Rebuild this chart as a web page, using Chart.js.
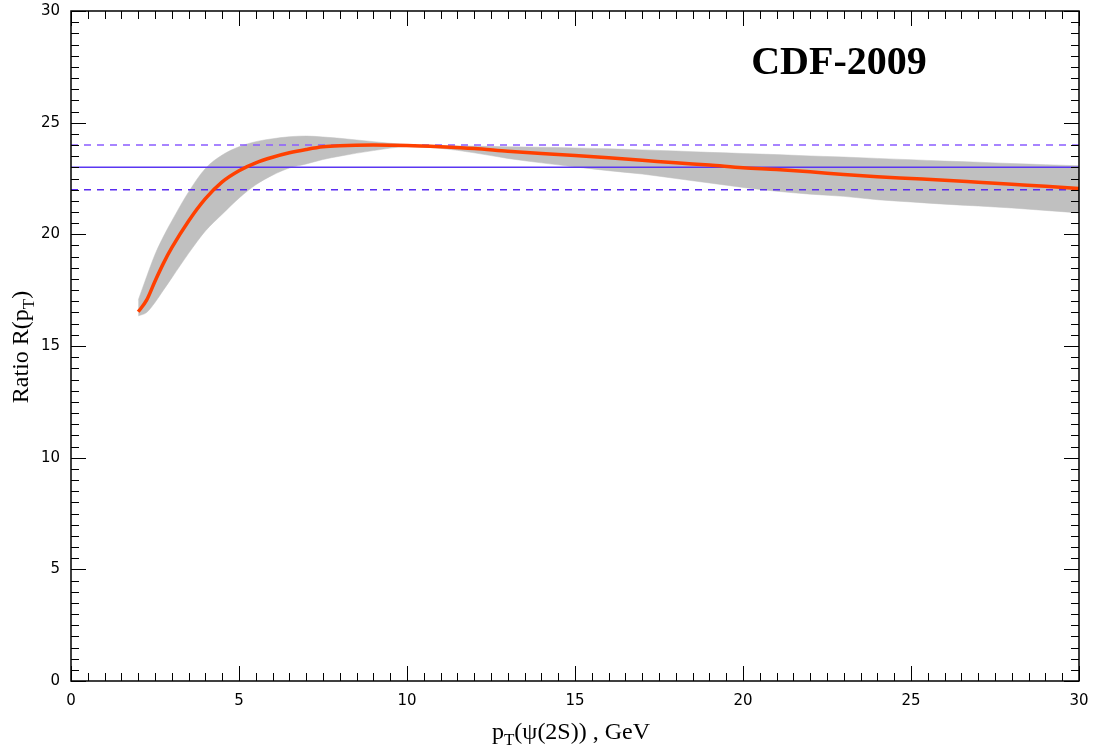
<!DOCTYPE html>
<html>
<head>
<meta charset="utf-8">
<script src="https://cdn.jsdelivr.net/npm/chart.js@4.4.1/dist/chart.umd.min.js"></script>
<style>
html,body{margin:0;padding:0;background:#fff;}
#wrap{width:1093px;height:746px;position:relative;}
</style>
</head>
<body>
<div id="wrap"><canvas id="c" width="1093" height="746"></canvas></div>
<script>
// ---- data ----
const pT = [2, 2.25, 2.5, 2.75, 3, 3.5, 4, 4.5, 5, 5.5, 6, 6.5, 7, 7.5, 8, 9, 10,
  11, 12, 13, 14, 15, 16, 17, 18, 19, 20, 21, 22, 23, 24, 25, 26, 27, 28, 29, 30];
const ratio = [16.53, 17.05, 17.9, 18.7, 19.4, 20.6, 21.6, 22.35, 22.85, 23.2, 23.45, 23.65, 23.8, 23.92, 23.97, 24.0, 23.98,
  23.92, 23.84, 23.72, 23.62, 23.53, 23.43, 23.32, 23.2, 23.1, 22.98, 22.9, 22.8, 22.68, 22.58, 22.5, 22.42, 22.33, 22.24, 22.15, 22.05];
const bandUpper = [17.05, 18.1, 19.1, 19.9, 20.6, 21.9, 22.95, 23.55, 23.92, 24.15, 24.28, 24.37, 24.4, 24.36, 24.3, 24.15, 24.02,
  23.97, 23.95, 23.92, 23.9, 23.87, 23.83, 23.78, 23.73, 23.67, 23.62, 23.57, 23.51, 23.46, 23.4, 23.34, 23.28, 23.23, 23.17, 23.12, 23.07];
const bandLower = [16.35, 16.5, 16.95, 17.5, 18.05, 19.15, 20.15, 20.9, 21.62, 22.22, 22.65, 22.97, 23.15, 23.35, 23.5, 23.75, 23.92,
  23.85, 23.65, 23.4, 23.2, 23.02, 22.85, 22.7, 22.5, 22.3, 22.1, 21.93, 21.8, 21.7, 21.55, 21.45, 21.35, 21.27, 21.18, 21.07, 20.96];
const refCentral = 23;
const refUpper = 24;
const refLower = 22;
const xRange = [0, 30];
const yRange = [0, 30];
const xTicks = [0, 5, 10, 15, 20, 25, 30];
const yTicks = [0, 5, 10, 15, 20, 25, 30];
const titleText = "CDF-2009";

// ---- build ----
const pts = arr => arr.map((v, i) => ({x: pT[i], y: v}));
const hline = v => [{x: xRange[0], y: v}, {x: xRange[1], y: v}];
const zeroPad = s => { s.paddingLeft = 0; s.paddingRight = 0; s.paddingTop = 0; s.paddingBottom = 0; };

const decor = {
  id: 'decor',
  afterDraw(chart) {
    const ctx = chart.ctx, a = chart.chartArea;
    const xs = chart.scales.x, ys = chart.scales.y;
    ctx.save();
    ctx.strokeStyle = '#000';
    ctx.lineWidth = 1;
    for (let v = xRange[0]; v <= xRange[1] + 1e-9; v += 0.5) {
      const px = Math.round(xs.getPixelForValue(v)) + 0.5;
      const len = (Math.abs(v % 5) < 1e-9) ? 15 : 8;
      ctx.beginPath();
      ctx.moveTo(px, a.bottom); ctx.lineTo(px, a.bottom - len);
      ctx.moveTo(px, a.top); ctx.lineTo(px, a.top + len);
      ctx.stroke();
    }
    for (let v = yRange[0]; v <= yRange[1] + 1e-9; v += 0.5) {
      const py = Math.round(ys.getPixelForValue(v)) + 0.5;
      const len = (Math.abs(v % 5) < 1e-9) ? 15 : 8;
      ctx.beginPath();
      ctx.moveTo(a.left, py); ctx.lineTo(a.left + len, py);
      ctx.moveTo(a.right, py); ctx.lineTo(a.right - len, py);
      ctx.stroke();
    }
    ctx.lineWidth = 1.5;
    ctx.strokeRect(a.left, a.top, a.right - a.left, a.bottom - a.top);

    ctx.fillStyle = '#000';
    ctx.font = 'bold 40px "Liberation Serif", "Times New Roman", serif';
    ctx.textAlign = 'center';
    ctx.textBaseline = 'alphabetic';
    ctx.fillText(titleText, 839, 74);

    const big = '24px "Liberation Serif", "Times New Roman", serif';
    const small = '17px "Liberation Serif", "Times New Roman", serif';
    const xParts = [['p', big, 0], ['T', small, 6], ['(\u03C8(2S)) , GeV', big, 0]];
    let total = 0;
    xParts.forEach(p => { ctx.font = p[1]; total += ctx.measureText(p[0]).width; });
    let cx = 571 - total / 2;
    ctx.textAlign = 'left';
    xParts.forEach(p => { ctx.font = p[1]; ctx.fillText(p[0], cx, 739 + p[2]); cx += ctx.measureText(p[0]).width; });

    ctx.save();
    ctx.translate(28, 347);
    ctx.rotate(-Math.PI / 2);
    const yParts = [['Ratio R(p', big, 0], ['T', small, 6], [')', big, 0]];
    total = 0;
    yParts.forEach(p => { ctx.font = p[1]; total += ctx.measureText(p[0]).width; });
    cx = -total / 2;
    yParts.forEach(p => { ctx.font = p[1]; ctx.fillText(p[0], cx, 0 + p[2]); cx += ctx.measureText(p[0]).width; });
    ctx.restore();
    ctx.restore();
  }
};

new Chart(document.getElementById('c'), {
  type: 'line',
  data: {
    datasets: [
      {label: 'R(pT)', data: pts(ratio), borderColor: '#ff4000', borderWidth: 3.5, pointRadius: 0, fill: false, cubicInterpolationMode: 'monotone'},
      {label: 'upper ref', data: hline(refUpper), borderColor: '#8a5cff', borderWidth: 1.5, borderDash: [7, 6], pointRadius: 0, fill: false},
      {label: 'central', data: hline(refCentral), borderColor: '#5a36f2', borderWidth: 1.5, pointRadius: 0, fill: false},
      {label: 'lower ref', data: hline(refLower), borderColor: '#5a2cf0', borderWidth: 1.5, borderDash: [7, 6], pointRadius: 0, fill: false},
      {label: 'band upper', data: pts(bandUpper), borderColor: '#c0c0c0', borderWidth: 0.5, backgroundColor: '#c0c0c0', pointRadius: 0, fill: '+1', cubicInterpolationMode: 'monotone'},
      {label: 'band lower', data: pts(bandLower), borderColor: '#c0c0c0', borderWidth: 0.5, pointRadius: 0, fill: false, cubicInterpolationMode: 'monotone'}
    ]
  },
  options: {
    responsive: false,
    animation: false,
    devicePixelRatio: 1,
    layout: {autoPadding: false, padding: {top: 11, right: 14, left: 0, bottom: 0}},
    plugins: {legend: {display: false}, tooltip: {enabled: false}, title: {display: false}},
    scales: {
      x: {
        type: 'linear', min: xRange[0], max: xRange[1],
        afterBuildTicks: s => { s.ticks = xTicks.map(v => ({value: v})); },
        afterFit: s => { s.height = 65; zeroPad(s); },
        grid: {display: false, drawTicks: false},
        border: {display: false},
        ticks: {color: '#000', padding: 11, maxRotation: 0, autoSkip: false,
          font: {family: '"DejaVu Sans", sans-serif', size: 15}}
      },
      y: {
        type: 'linear', min: yRange[0], max: yRange[1],
        afterBuildTicks: s => { s.ticks = yTicks.map(v => ({value: v})); },
        afterFit: s => { s.width = 71; zeroPad(s); },
        grid: {display: false, drawTicks: false},
        border: {display: false},
        ticks: {color: '#000', padding: 11, autoSkip: false,
          font: {family: '"DejaVu Sans", sans-serif', size: 15}}
      }
    }
  },
  plugins: [decor]
});
</script>
</body>
</html>
